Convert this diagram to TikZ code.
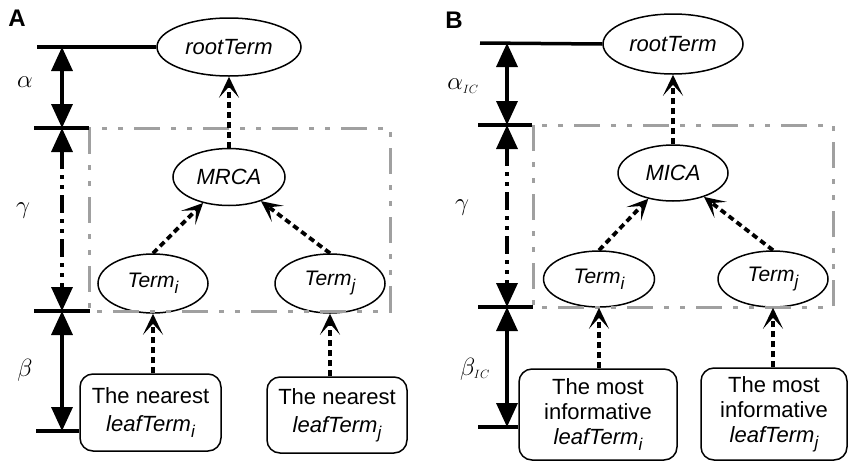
\documentclass[tikz,border=0pt]{standalone}
\usepackage{fontspec}
\setmainfont{Liberation Sans}
\usetikzlibrary{arrows.meta,shapes.geometric}
\definecolor{boxgray}{RGB}{160,160,160}
\newcommand\subtx[1]{\raisebox{-6pt}{\fontsize{17}{17}\selectfont\itshape #1}}
\tikzset{
  ell/.style={ellipse, draw, line width=1.5pt, inner sep=0pt, font=\fontsize{22}{26}\selectfont\itshape},
  termell/.style={ell, font=\fontsize{21}{24}\selectfont\itshape},
  leaf/.style={draw, rounded corners=13pt, line width=1.5pt, align=center, inner sep=0pt},
  leafA/.style={leaf, font=\fontsize{22}{28}\selectfont},
  leafB/.style={leaf, font=\fontsize{22}{25}\selectfont},
  dim/.style={line width=3.5pt, {Triangle[length=24pt,width=21pt]}-{Triangle[length=24pt,width=21pt]}},
  dimdash/.style={dim, dash pattern=on 18pt off 6pt on 4pt off 6pt on 4pt off 6pt},
  tick/.style={line width=3.5pt},
  dotarr/.style={line width=3.8pt, dash pattern=on 6pt off 4pt, -{Stealth[length=21pt,width=20pt,inset=11pt]}},
  grbox/.style={draw=boxgray, line width=3pt, dash pattern=on 26pt off 11pt on 5pt off 11pt on 5pt off 11pt},
  greek/.style={font=\fontsize{25}{25}\selectfont, inner sep=0pt},
  panel/.style={font=\fontsize{24}{24}\selectfont\bfseries, inner sep=0pt}
}
\begin{document}
\begin{tikzpicture}[x=1pt, y=-1pt]
\useasboundingbox (0,0) rectangle (848,461);

% ---------------- Panel A ----------------
\node[panel] (labA) at (17,18) {A};
\node[ell, minimum width=144pt, minimum height=58pt] (rootA) at (229,47) {rootTerm};
\node[ell, minimum width=112pt, minimum height=57pt] (mrca) at (229,177) {MRCA};
\node[termell, minimum width=110pt, minimum height=59pt] (TAi) at (153,283.5) {Term\subtx{i}};
\node[termell, minimum width=110pt, minimum height=59pt] (TAj) at (330,283.5) {Term\subtx{j}};
\node[leafA, minimum width=141pt, minimum height=77pt] (LAi) at (150.5,412.5) {The nearest\\\textit{leafTerm}\subtx{i}};
\node[leafA, minimum width=140pt, minimum height=76pt] (LAj) at (337,415) {The nearest\\\textit{leafTerm}\subtx{j}};

\draw[grbox] (89,128) rectangle (390,311);

\coordinate (tA0) at (37,47);
\coordinate (tA1) at (34,128);
\coordinate (tA1e) at (89,128);
\coordinate (tA2) at (34,311);
\coordinate (tA2e) at (90,311);
\coordinate (tA3) at (36,431);
\coordinate (dA0) at (62,47);
\coordinate (dA1) at (62,128);
\coordinate (dA2) at (62,311);
\coordinate (dA3) at (62,431);

\draw[tick] (tA0) -- (rootA.west);
\draw[tick] (tA1) -- (tA1e);
\draw[tick] (tA2) -- (tA2e);
\draw[tick] (tA3) -- (tA3 -| LAi.west);
\draw[dim] (dA0) -- (dA1);
\draw[dimdash] (dA1) -- (dA2);
\draw[dim] (dA2) -- (dA3);

\node[greek] (alphaA) at (25,82) {$\alpha$};
\node[greek] (gammaA) at (23,211) {$\gamma$};
\node[greek] (betaA) at (25,370) {$\beta$};

\draw[dotarr] (mrca.north) -- (rootA.south);
\draw[dotarr] (TAi.north) -- (mrca);
\draw[dotarr] (TAj.north) -- (mrca);
\draw[dotarr] (LAi.north -| TAi) -- (TAi.south);
\draw[dotarr] (LAj.north -| TAj.south) -- (TAj.south);

% ---------------- Panel B ----------------
\node[panel] (labB) at (454,20) {B};
\node[ell, minimum width=140pt, minimum height=60pt] (rootB) at (673,44) {rootTerm};
\node[ell, minimum width=110pt, minimum height=56pt] (mica) at (673,173) {MICA};
\node[termell, minimum width=111pt, minimum height=56pt] (TBi) at (599,279) {Term\subtx{i}};
\node[termell, minimum width=110pt, minimum height=56pt] (TBj) at (773,279) {Term\subtx{j}};
\node[leafB, minimum width=158pt, minimum height=91pt] (LBi) at (598,414.5) {The most\\informative\\\textit{leafTerm}\subtx{i}};
\node[leafB, minimum width=146pt, minimum height=92pt] (LBj) at (774,414) {The most\\informative\\\textit{leafTerm}\subtx{j}};

\draw[grbox] (533,125) rectangle (833,307);

\coordinate (tB0) at (480,43);
\coordinate (tB1) at (478,125);
\coordinate (tB1e) at (532,125);
\coordinate (tB2) at (478,307);
\coordinate (tB2e) at (533,307);
\coordinate (tB3) at (478,427);
\coordinate (dB0) at (507,43);
\coordinate (dB1) at (507,125);
\coordinate (dB2) at (507,307);
\coordinate (dB3) at (507,427);

\draw[tick] (tB0) -- (rootB.west);
\draw[tick] (tB1) -- (tB1e);
\draw[tick] (tB2) -- (tB2e);
\draw[tick] (tB3) -- (tB3 -| LBi.west);
\draw[dim] (dB0) -- (dB1);
\draw[dimdash] (dB1) -- (dB2);
\draw[dim] (dB2) -- (dB3);

\node[greek] (alphaB) at (463,86) {$\alpha_{\scriptscriptstyle IC}$};
\node[greek] (gammaB) at (462,208) {$\gamma$};
\node[greek] (betaB) at (475,369) {$\beta_{\scriptscriptstyle IC}$};

\draw[dotarr] (mica.north) -- (rootB.south);
\draw[dotarr] (TBi.north) -- (mica);
\draw[dotarr] (TBj.north) -- (mica);
\draw[dotarr] (LBi.north -| TBi.south) -- (TBi.south);
\draw[dotarr] (LBj.north -| TBj.south) -- (TBj.south);
\end{tikzpicture}
\end{document}
